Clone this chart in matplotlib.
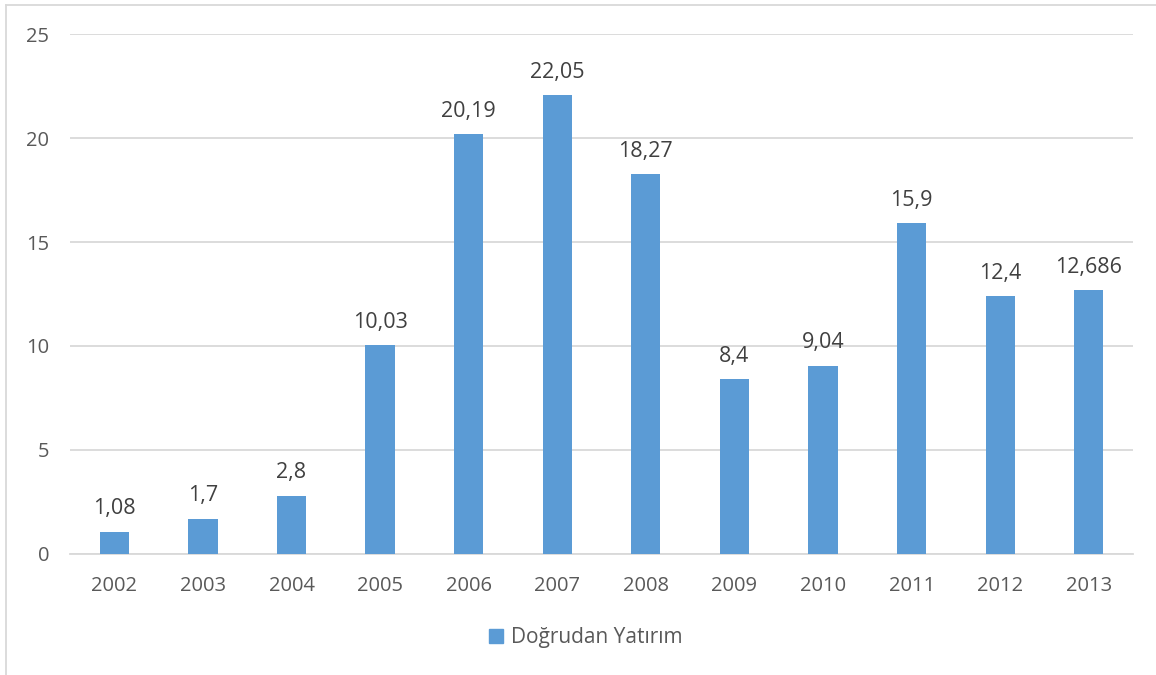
import matplotlib.pyplot as plt
from matplotlib.lines import Line2D
from matplotlib.patches import Patch

years = ["2002", "2003", "2004", "2005", "2006", "2007",
         "2008", "2009", "2010", "2011", "2012", "2013"]
values = [1.08, 1.7, 2.8, 10.03, 20.19, 22.05, 18.27, 8.4, 9.04, 15.9, 12.4, 12.686]
labels = ["1,08", "1,7", "2,8", "10,03", "20,19", "22,05",
          "18,27", "8,4", "9,04", "15,9", "12,4", "12,686"]

BAR_COLOR = "#5B9BD5"
GRID_COLOR = "#D9D9D9"
TEXT_COLOR = "#595959"

plt.rcParams["font.family"] = ["Open Sans", "DejaVu Sans"]

fig = plt.figure(figsize=(11.56, 6.75), dpi=100)
ax = fig.add_axes([0.0606, 0.1793, 0.9196, 0.7703])

x = range(len(years))
ax.bar(x, values, width=0.33, color=BAR_COLOR, zorder=3)

for xi, v, lab in zip(x, values, labels):
    ax.text(xi, v + 0.6, lab, ha="center", va="bottom",
            fontsize=15.5, color="#404040")

ax.set_xlim(-0.5, len(years) - 0.5)
ax.set_ylim(0, 25)
ax.set_yticks(range(0, 26, 5))
ax.set_xticks(list(x))
ax.set_xticklabels(years)
ax.yaxis.grid(True, color=GRID_COLOR, linewidth=1.3, zorder=0)
ax.tick_params(axis="both", length=0, labelsize=14.5, labelcolor=TEXT_COLOR)
ax.tick_params(axis="y", pad=15)
ax.tick_params(axis="x", pad=16)
for side in ["top", "right", "left"]:
    ax.spines[side].set_visible(False)
ax.spines["bottom"].set_color(GRID_COLOR)
ax.spines["bottom"].set_linewidth(1.3)

# chart border (left and top visible)
fig.add_artist(Line2D([6 / 1156, 6 / 1156], [0, 1 - 5 / 675], color=GRID_COLOR, linewidth=1.3))
fig.add_artist(Line2D([6 / 1156, 1], [1 - 5 / 675, 1 - 5 / 675], color=GRID_COLOR, linewidth=1.3))

fig.legend(handles=[Patch(color=BAR_COLOR, label="Doğrudan Yatırım")],
           loc="center", bbox_to_anchor=(586 / 1156, 1 - 638 / 675), frameon=False,
           fontsize=15, labelcolor=TEXT_COLOR, handlelength=0.65,
           handleheight=0.65, handletextpad=0.4)

fig.savefig("out.png", dpi=100)
